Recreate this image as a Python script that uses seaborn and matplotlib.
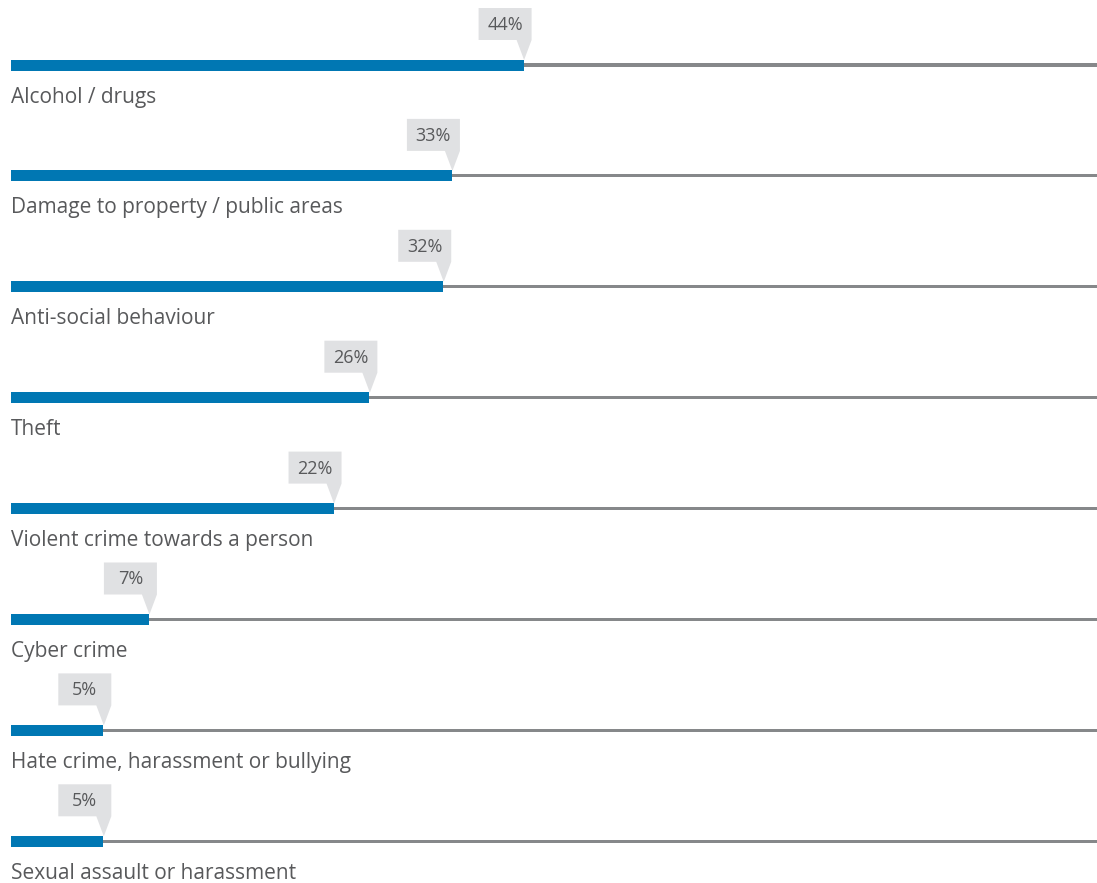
#!/usr/bin/env python3
"""Horizontal progress-style bars with callout value labels."""

import matplotlib.pyplot as plt
import pandas as pd
import seaborn as sns
from matplotlib.patches import Polygon

CATEGORIES = [
    "Alcohol / drugs",
    "Damage to property / public areas",
    "Anti-social behaviour",
    "Theft",
    "Violent crime towards a person",
    "Cyber crime",
    "Hate crime, harassment or bullying",
    "Sexual assault or harassment",
]
VALUES = [44, 33, 32, 26, 22, 7, 5, 5]
# bar length as share of the full track
BAR_EXTENT = [47.2, 40.6, 39.8, 33.0, 29.7, 12.7, 8.5, 8.5]
TRACK_MAX = 100

BLUE = "#0077b3"
TRACK = "#86888a"
TEXT = "#58595b"
CALLOUT = "#e0e1e3"

W, H, DPI = 1097, 883, 100
PX_X = W / (TRACK_MAX + 1.01)  # px per x unit
ROW_PX = 110.9                 # px per category row


def main() -> None:
    sns.set_theme(style="white")
    plt.rcParams["font.family"] = ["Open Sans", "DejaVu Sans"]

    df = pd.DataFrame({"category": CATEGORIES, "value": VALUES, "extent": BAR_EXTENT})
    df["track"] = TRACK_MAX

    fig = plt.figure(figsize=(W / DPI, H / DPI), dpi=DPI)
    ax = fig.add_axes([0, 0, 1, 1])

    sns.barplot(data=df, y="category", x="track", orient="h", color=TRACK,
                width=3.2 / ROW_PX, saturation=1, linewidth=0, ax=ax)
    sns.barplot(data=df, y="category", x="extent", orient="h", color=BLUE,
                width=11 / ROW_PX, saturation=1, linewidth=0, ax=ax)

    px = 1 / PX_X
    py = 1 / ROW_PX
    for i, row in df.iterrows():
        ext = row["extent"]
        ax.text(0, i + 32 * py, row["category"], ha="left", va="center",
                fontsize=15, color=TEXT)
        left, right = ext - 45 * px, ext + 8 * px
        top, bottom = i - 57 * py, i - 25 * py
        shape = [
            (left, top), (right, top), (right, bottom),
            (ext + 0.5 * px, i - 5 * py), (ext - 7 * px, bottom), (left, bottom),
        ]
        ax.add_patch(Polygon(shape, closed=True, facecolor=CALLOUT,
                             edgecolor="none", zorder=3))
        ax.text((left + right) / 2, (top + bottom) / 2 + 1 * py, f"{row['value']}%",
                ha="center", va="center", fontsize=13, color=TEXT, zorder=4)

    ax.set_xlim(-11 * px, TRACK_MAX)
    ax.set_ylim((H - 65) / ROW_PX, -65 / ROW_PX)
    ax.axis("off")
    fig.savefig("out.png", dpi=DPI, facecolor="white")
    plt.close(fig)


if __name__ == "__main__":
    main()
